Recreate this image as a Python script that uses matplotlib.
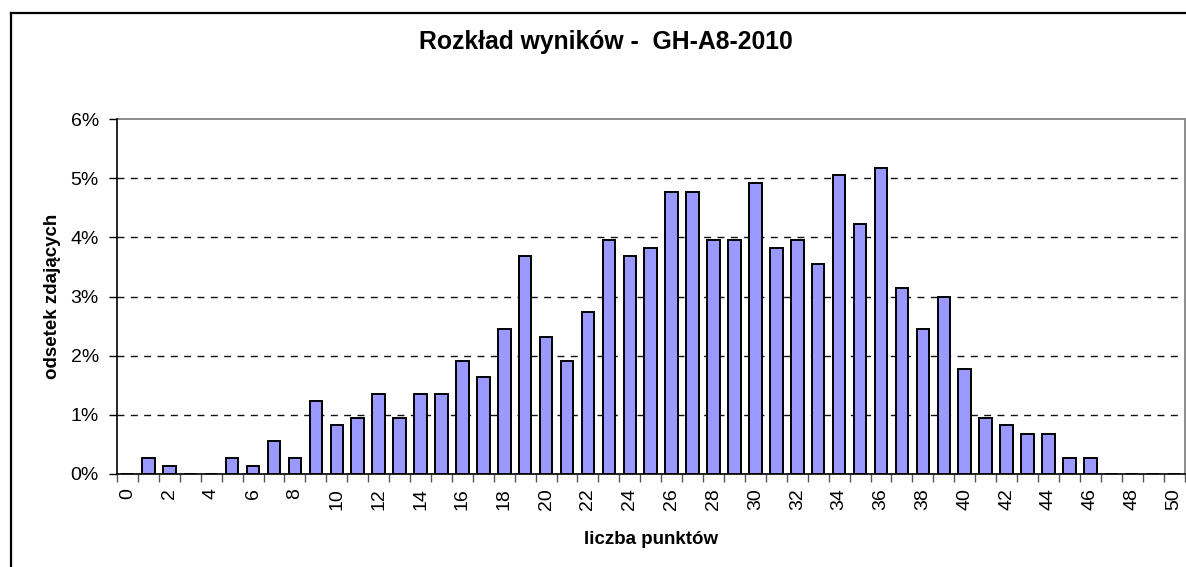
import numpy as np
import matplotlib
matplotlib.use("Agg")
import matplotlib.pyplot as plt
from matplotlib.lines import Line2D

plt.rcParams['font.family'] = ['Liberation Sans', 'DejaVu Sans']

# liczba punktów (0-50) i odsetek zdających w procentach
punkty = list(range(0, 51))
odsetek = [0.00, 0.27, 0.14, 0.00, 0.00, 0.27, 0.14, 0.55, 0.27, 1.23,
           0.82, 0.95, 1.36, 0.95, 1.36, 1.36, 1.91, 1.64, 2.45, 3.68,
           2.32, 1.91, 2.73, 3.96, 3.68, 3.82, 4.77, 4.77, 3.96, 3.96,
           4.91, 3.82, 3.96, 3.55, 5.05, 4.23, 5.18, 3.14, 2.45, 3.00,
           1.77, 0.95, 0.82, 0.68, 0.68, 0.27, 0.27, 0.00, 0.00, 0.00,
           0.00]
etykiety_x = [str(p) for p in range(0, 51, 2)]
etykiety_y = [0, 1, 2, 3, 4, 5, 6]

W, H = 1186, 567
fig = plt.figure(figsize=(W / 100, H / 100), dpi=100)

# ramka wykresu (lewa i górna krawędź)
fig.add_artist(Line2D([11 / W, 11 / W], [0, 1 - 13 / H], color='black', lw=1.6,
                      transform=fig.transFigure))
fig.add_artist(Line2D([11 / W, 1], [1 - 13 / H, 1 - 13 / H], color='black', lw=1.6,
                      transform=fig.transFigure))

x0, x1, y0, y1 = 117, 1184.5, 119, 474
ax = fig.add_axes([x0 / W, (H - y1) / H, (x1 - x0) / W, (y1 - y0) / H])

# linie siatki
for v in etykiety_y[1:-1]:
    ax.axhline(v, color='#111111', lw=1.0, linestyle=(0, (5, 4.6)), zorder=1)

# słupki pod osiami, żeby zerowych wartości nie było widać
ax.bar(punkty, odsetek, width=0.6, color='#9999FF', edgecolor='black',
       linewidth=1.4, zorder=2)

ax.set_xlim(-0.5, 50.5)
ax.set_ylim(0, 6)

ax.set_yticks(etykiety_y)
ax.set_yticklabels([f"{v}%" for v in etykiety_y])
ax.tick_params(axis='y', length=6, width=1, pad=7, labelsize=14, color='black')

ax.set_xticks(range(0, 51, 2))
ax.set_xticklabels(etykiety_x, rotation=90, va='top', ha='center')
ax.set_xticks(np.arange(-0.5, 51, 1), minor=True)
ax.tick_params(axis='x', which='major', length=0, pad=10, labelsize=14)
ax.tick_params(axis='x', which='minor', length=6, width=1, color='#555555')

for s in ['left', 'bottom']:
    ax.spines[s].set_color('black')
    ax.spines[s].set_linewidth(1.2)
    ax.spines[s].set_zorder(4)
for s in ['top', 'right']:
    ax.spines[s].set_color('#8c8c8c')
    ax.spines[s].set_linewidth(1.4)

ax.set_xlabel('liczba punktów', fontsize=13.5, fontweight='bold', labelpad=15)
ax.set_ylabel('odsetek zdających', fontsize=13.5, fontweight='bold', labelpad=7)

fig.text(606 / W, 1 - 42 / H, 'Rozkład wyników -  GH-A8-2010', ha='center',
         va='center', fontsize=17.8, fontweight='bold')

fig.savefig('out.png', dpi=100)
